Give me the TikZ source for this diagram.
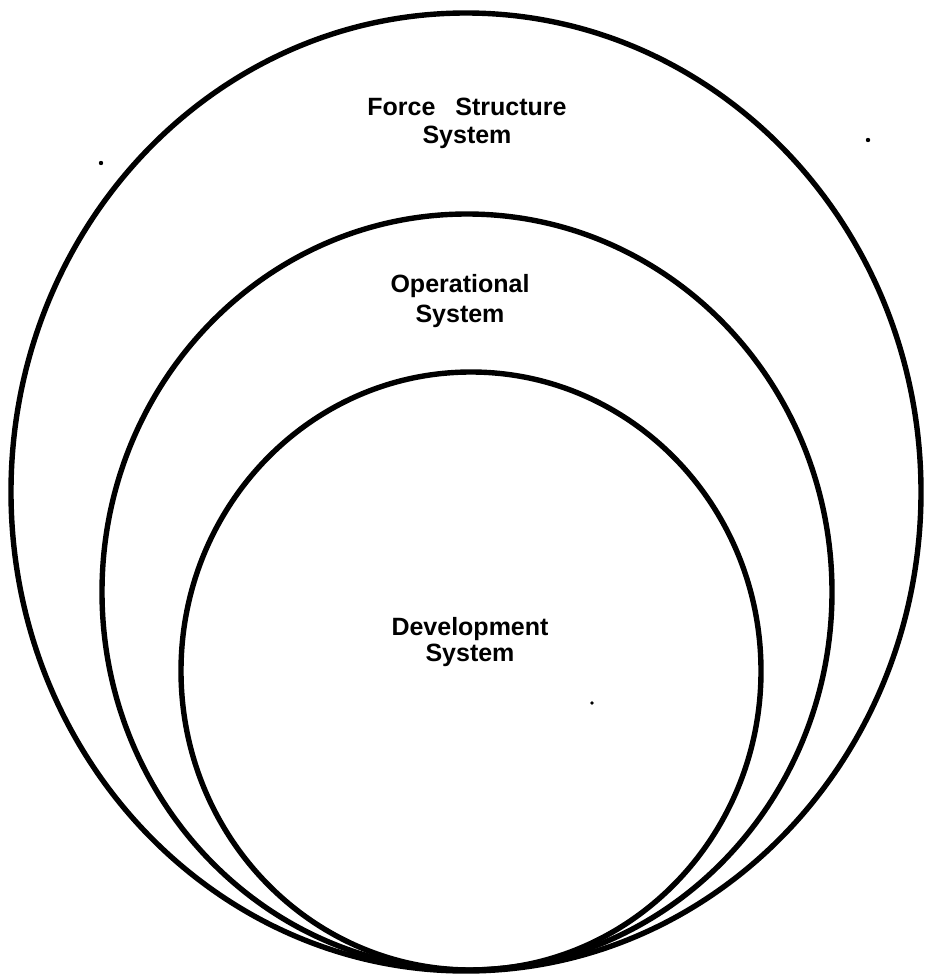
\documentclass[tikz,border=0pt]{standalone}
\usepackage{fontspec}
\setmainfont{Liberation Sans}
\begin{document}
\begin{tikzpicture}[x=1pt,y=-1pt,
  ring/.style={draw=black,line width=5.4pt},
  label/.style={font=\bfseries\fontsize{25}{28}\selectfont,align=center,inner sep=0pt},
  speck/.style={fill=black}]
  \useasboundingbox (0,0) rectangle (924,977);
  % nested systems, all touching at the bottom
  \draw[ring] (466,492) ellipse [x radius=455, y radius=479];
  \draw[ring] (467,592) ellipse [x radius=365, y radius=378];
  \draw[ring] (471,671) ellipse [x radius=290, y radius=299];
  % labels
  \node[label] (force) at (467,123) {Force\hspace{20pt}Structure\\System};
  \node[label,font=\bfseries\fontsize{25}{30}\selectfont] (oper) at (460,301) {Operational\\System};
  \node[label,font=\bfseries\fontsize{25}{26}\selectfont] (devel) at (470,642) {Development\\System};
  % small printing specks
  \fill[speck] (101,163) circle (2.2);
  \fill[speck] (868,140) circle (2.2);
  \fill[speck] (592,703) circle (1.8);
\end{tikzpicture}
\end{document}
